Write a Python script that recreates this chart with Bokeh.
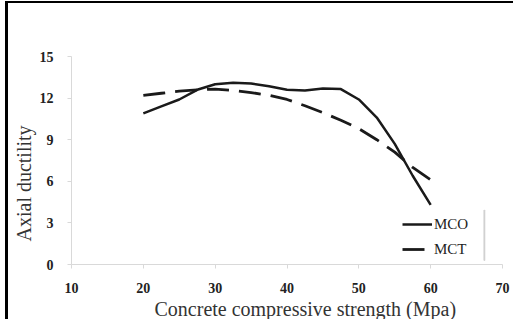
from bokeh.plotting import figure
from bokeh.models import Range1d, Legend, LegendItem, BoxAnnotation, FixedTicker, Title
from bokeh.embed import file_html
from bokeh.resources import INLINE

# Concrete compressive strength (MPa) and axial ductility for the two models
strength = [20, 22.5, 25, 27.5, 30, 32.5, 35, 37.5, 40, 42.5, 45, 47.5, 50, 52.5, 55, 57.5, 60]
mco = [10.9, 11.4, 11.9, 12.6, 13.0, 13.1, 13.05, 12.85, 12.6, 12.55, 12.7, 12.65, 11.9, 10.6, 8.7, 6.4, 4.3]
mct = [12.2, 12.35, 12.5, 12.6, 12.65, 12.55, 12.4, 12.2, 11.9, 11.45, 10.95, 10.4, 9.8, 9.0, 8.1, 7.0, 6.1]

x_ticks = [10, 20, 30, 40, 50, 60, 70]
y_ticks = [0, 3, 6, 9, 12, 15]

SERIF = "Liberation Serif"
AXIS_GREY = "#d9d9d9"

# the figure sits inside a black left/top frame line
p = figure(width=508, height=318, output_backend="svg", toolbar_location=None,
           x_range=Range1d(10, 70), y_range=Range1d(0, 15),
           min_border_left=56, min_border_right=14, min_border_top=53, min_border_bottom=57)
p.styles = {"margin-left": "5px", "margin-top": "1px",
            "border-left": "3px solid black", "border-top": "2px solid black"}
p.outline_line_color = None
p.grid.grid_line_color = None
p.background_fill_color = "white"
p.border_fill_color = "white"

for ax in (p.xaxis[0], p.yaxis[0]):
    ax.axis_line_color = AXIS_GREY
    ax.major_tick_line_color = AXIS_GREY
    ax.minor_tick_line_color = None
    ax.major_tick_in = 0
    ax.major_tick_out = 4
    ax.major_label_text_font = SERIF
    ax.major_label_text_font_style = "bold"
    ax.major_label_text_font_size = "14px"
    ax.major_label_text_color = "#222222"

p.xaxis.ticker = FixedTicker(ticks=x_ticks)
p.yaxis.ticker = FixedTicker(ticks=y_ticks)
p.xaxis.major_label_standoff = 14
p.yaxis.major_label_standoff = 14

# axis titles, set as side titles so they can sit off-centre
p.add_layout(Title(text="Concrete compressive strength (Mpa)", align="left", offset=83,
                   text_font=SERIF, text_font_style="normal", text_font_size="20px",
                   text_color="#333333", standoff=0), "below")
p.add_layout(Title(text="Axial ductility", align="left", offset=23,
                   text_font=SERIF, text_font_style="normal", text_font_size="20px",
                   text_color="#333333", standoff=4), "left")

r_mco = p.line(strength, mco, line_color="#1a1a1a", line_width=2.5)
r_mct = p.line(strength, mct, line_color="#1a1a1a", line_width=2.8, line_dash="22 10")

legend = Legend(items=[LegendItem(label="MCO", renderers=[r_mco]),
                       LegendItem(label="MCT", renderers=[r_mct])],
                location=(331, 6), orientation="vertical",
                border_line_color=None, background_fill_alpha=0,
                label_text_font=SERIF, label_text_font_size="15px",
                label_text_color="#222222",
                glyph_width=30, glyph_height=18, label_height=18,
                label_standoff=2, spacing=7, padding=0, margin=0)
p.add_layout(legend, "center")

# thin grey rule to the right of the legend
p.add_layout(BoxAnnotation(left=67.45, right=67.5, bottom=0.3, top=3.9,
                           fill_alpha=0, line_color="#666666", line_width=1.5))

open("out.html", "w").write(file_html(p, INLINE))
